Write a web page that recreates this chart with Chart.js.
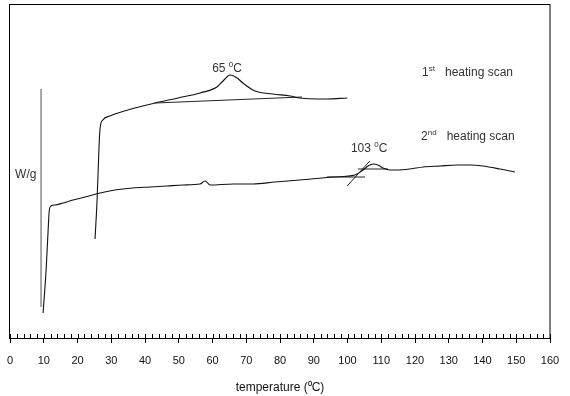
<!DOCTYPE html>
<html>
<head>
<meta charset="utf-8">
<script src="https://cdn.jsdelivr.net/npm/chart.js@4.4.1/dist/chart.umd.min.js"></script>
<style>
  html, body { margin: 0; padding: 0; background: #fff; }
  #wrap { width: 570px; height: 396px; }
</style>
</head>
<body>
<div id="wrap"><canvas id="dscChart"></canvas></div>
<script>
// --- data (temperature in deg C, heat flow in arbitrary W/g units) ---
const temp1 = [25.2, 25.8, 26.4, 26.7, 27.5, 29.6, 32, 37, 43, 49.8, 56.3, 61.3, 63.4, 65.2, 67.3, 69, 72.6, 77.9, 83, 85.9, 91, 93.9, 99.9];
const flow1 = [99, 138, 193, 210, 218, 222, 225, 230, 235, 240, 245, 251, 258, 263, 260, 255, 247, 244, 242, 240, 239, 239, 240];

const temp2 = [9.8, 10.7, 11.3, 11.6, 12.1, 13.3, 15.7, 18.7, 22.2, 26.7, 31.1, 36.4, 41.5, 46.5, 51.3, 56.3, 57.8, 59.3, 66.1, 72, 78.5, 85.9, 95.7, 102.2, 104.6, 106.1, 107.6, 109, 110.5, 112.6, 114.7, 118.5, 122.4, 127.4, 132.4, 136.3, 140.1, 145.2, 149.6];
const flow2 = [25, 68, 108, 126, 132, 133, 135, 138, 141, 145, 148, 150, 151, 152, 153, 154, 157, 153, 154, 154, 156, 158, 161, 163, 168, 172, 174, 173, 170, 168, 168, 169, 171, 172, 173, 173, 172, 169, 166];

// tangent construction lines
const base1Temp = [43, 86.5];
const base1Flow = [235, 241];
const base2Temp = [93.9, 105.2];
const base2Flow = [161, 161];
const onsetTemp = [103.1, 112];
const onsetFlow = [169, 169];
const slopeTemp = [99.9, 106.6];
const slopeFlow = [152, 177];

// W/g scale bar
const barTemp = [9.2, 9.2];
const barFlow = [31, 249];

const xMin = 0, xMax = 160, xStep = 10;

function pts(xs, ys) {
    return xs.map((x, i) => ({ x: x, y: ys[i] }));
}

function line(xs, ys, color, width, smooth) {
    return {
        data: pts(xs, ys),
        borderColor: color,
        borderWidth: width,
        pointRadius: 0,
        fill: false,
        cubicInterpolationMode: smooth ? 'monotone' : 'default',
        tension: 0
    };
}

// text with superscripts: parts = [[text, isSup], ...]
const notes = [
    { x: 59.9, y: 266, parts: [['65 ', false], ['0', true], ['C', false]] },
    { x: 101.0, y: 186, parts: [['103 ', false], ['0', true], ['C', false]] },
    { x: 122.1, y: 262, parts: [['1', false], ['st', true], ['   heating scan', false]] },
    { x: 121.8, y: 198, parts: [['2', false], ['nd', true], ['   heating scan', false]] },
    { x: 1.5, y: 160, parts: [['W/g', false]] }
];

const fontFam = '"Liberation Sans", Arial, sans-serif';

const framePlugin = {
    id: 'frame',
    afterDatasetsDraw(chart) {
        const ctx = chart.ctx;
        const a = chart.chartArea;
        const xs = chart.scales.x;
        ctx.save();
        ctx.strokeStyle = '#000';
        ctx.lineWidth = 1;
        ctx.strokeRect(a.left - 0.5, a.top + 0.5, a.right - a.left + 0.5, a.bottom - a.top);
        // inner minor ticks
        ctx.beginPath();
        for (let v = xMin; v <= xMax; v += 2) {
            const px = Math.round(xs.getPixelForValue(v)) + 0.5;
            ctx.moveTo(px, a.bottom);
            ctx.lineTo(px, a.bottom - 4);
        }
        ctx.stroke();

        // annotations
        const ys = chart.scales.y;
        ctx.fillStyle = '#333';
        ctx.textBaseline = 'alphabetic';
        notes.forEach(n => {
            let px = xs.getPixelForValue(n.x);
            const py = ys.getPixelForValue(n.y);
            n.parts.forEach(p => {
                ctx.font = (p[1] ? '8px ' : '12px ') + fontFam;
                ctx.fillText(p[0], px, p[1] ? py - 5 : py);
                px += ctx.measureText(p[0]).width;
            });
        });
        ctx.restore();
    }
};

new Chart(document.getElementById('dscChart'), {
    type: 'line',
    data: {
        datasets: [
            line(barTemp, barFlow, '#8a8a8a', 1.5, false),
            line(temp1, flow1, '#111', 1.1, true),
            line(base1Temp, base1Flow, '#222', 1, false),
            line(temp2, flow2, '#111', 1.1, true),
            line(base2Temp, base2Flow, '#222', 1, false),
            line(onsetTemp, onsetFlow, '#222', 1, false),
            line(slopeTemp, slopeFlow, '#222', 1, false)
        ]
    },
    options: {
        responsive: true,
        maintainAspectRatio: false,
        animation: false,
        layout: { padding: { left: 10, right: 20, top: 4, bottom: 0 } },
        plugins: {
            legend: { display: false },
            tooltip: { enabled: false }
        },
        scales: {
            x: {
                type: 'linear',
                min: xMin,
                max: xMax,
                border: { display: false },
                grid: {
                    drawOnChartArea: false,
                    tickLength: 5,
                    color: '#000'
                },
                ticks: {
                    stepSize: xStep,
                    color: '#111',
                    padding: 11,
                    maxRotation: 0,
                    font: { size: 11, family: fontFam }
                },
                title: {
                    display: true,
                    text: 'temperature (\u2070C)',
                    color: '#111',
                    padding: { top: 0, bottom: 1 },
                    font: { size: 12, family: fontFam }
                },
                afterFit(scale) {
                    scale.height = 58;
                    scale.paddingLeft = 0;
                    scale.paddingRight = 0;
                }
            },
            y: {
                display: false,
                min: 0,
                max: 334
            }
        }
    },
    plugins: [framePlugin]
});
</script>
</body>
</html>
